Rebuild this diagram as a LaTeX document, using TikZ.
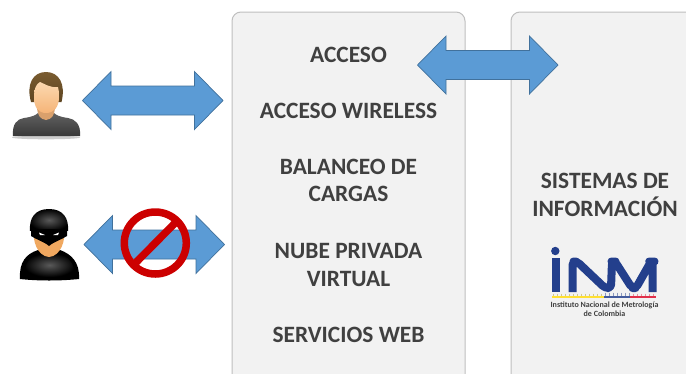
\documentclass[tikz,border=0pt]{standalone}
\usepackage{fontspec}
\setmainfont{Carlito}
\definecolor{boxfill}{HTML}{F2F2F2}
\definecolor{boxline}{HTML}{BFBFBF}
\definecolor{arrfill}{HTML}{5B9BD5}
\definecolor{arrline}{HTML}{41719C}
\definecolor{txt}{HTML}{404040}
\definecolor{inmblue}{HTML}{233F8C}
\definecolor{nored}{HTML}{CC0000}
\definecolor{hairtop}{HTML}{7A5C30}
\definecolor{hairbot}{HTML}{5E4522}
\definecolor{skintop}{HTML}{FCD9B0}
\definecolor{skinbot}{HTML}{F5B478}
\definecolor{neckc}{HTML}{D9A06C}
\definecolor{maskskin}{HTML}{F0A860}
\definecolor{ruley}{HTML}{FFE033}
\definecolor{ruler}{HTML}{E0304A}
\tikzset{
  panel/.style={draw=boxline,line width=1pt,fill=boxfill,rounded corners=9pt},
  lbl/.style={font=\fontsize{23.4}{27.5}\selectfont\bfseries,text=txt,align=center,inner sep=0pt},
  dbl/.style={draw=arrline,line width=.7pt,fill=arrfill,line join=miter},
  inm/.style={draw=inmblue,line width=8pt,line cap=butt},
  tick/.style={line width=.4pt,opacity=.5},
}
\newcommand{\dblarrow}[3]{% left tip x, right tip x, centre y
  \draw[dbl] (#1,#3) -- (#1+28.5,#3-29) -- (#1+28.5,#3-14.5) -- (#2-28.5,#3-14.5) -- (#2-28.5,#3-29)
   -- (#2,#3) -- (#2-28.5,#3+29) -- (#2-28.5,#3+14.5) -- (#1+28.5,#3+14.5) -- (#1+28.5,#3+29) -- cycle;}
\begin{document}
\begin{tikzpicture}[x=1pt,y=-1pt]
\useasboundingbox (0,0) rectangle (686,373);
\clip (0,0) rectangle (686,373);
\fill[white] (0,0) rectangle (686,373);
\draw[panel] (232,12) rectangle (465,390);
\draw[panel] (511,12) rectangle (710,390);
\node[lbl] (a) at (348.5,54.5) {ACCESO};
\node[lbl] (b) at (348.5,110.5) {ACCESO WIRELESS};
\node[lbl] (c) at (348.5,180.5) {BALANCEO DE\\CARGAS};
\node[lbl] (d) at (348.5,265) {NUBE PRIVADA\\VIRTUAL};
\node[lbl] (e) at (348.5,335) {SERVICIOS WEB};
\node[lbl] (f) at (605,195) {SISTEMAS DE\\INFORMACIÓN};
\dblarrow{82.5}{223}{100.5}
\dblarrow{84}{224.5}{244.5}
\dblarrow{417.5}{558}{65}
\draw[nored,line width=7.5pt] (155.3,243) circle (31);
\draw[nored,line width=7.5pt] (177,221) -- (133.5,265);
% user icon
\fill[black!20] (46,137.5) ellipse (34 and 1.8);
\shade[top color=black!62,bottom color=black!78] (13,136) .. controls (12,124) and (17,119) .. (24,118)
  .. controls (32,117) and (36,115) .. (38,113) -- (54,113) .. controls (56,115) and (60,117) .. (68,118)
  .. controls (75,119) and (81,124) .. (80,136) -- cycle;
\fill[neckc] (37,108) .. controls (38,116) and (40,119) .. (46,120) .. controls (52,119) and (54,116) .. (55,108) -- cycle;
\shade[top color=hairtop,bottom color=hairbot] (31,102) .. controls (26,84) and (33,72) .. (46,72)
  .. controls (59,72) and (66,84) .. (61.5,102) -- cycle;
\shade[top color=skintop,bottom color=skinbot] (46,113) .. controls (38,113) and (34,107) .. (34,97)
  .. controls (34,89) and (36,84) .. (40,82) .. controls (45,84) and (50,88) .. (58,87)
  .. controls (59,90) and (59,93) .. (59,97) .. controls (59,107) and (54,113) .. (46,113) -- cycle;
% intruder icon
\fill[black] (20,279) .. controls (19,262) and (26,254) .. (38,250) -- (60,250)
  .. controls (71,254) and (80,262) .. (79,279) .. controls (60,281) and (38,281) .. (20,279) -- cycle;
\shade[inner color=black!65,outer color=black] (24,277) .. controls (24,263) and (30,256) .. (40,253) -- (58,253)
  .. controls (68,256) and (75,263) .. (75,277) -- cycle;
\fill[maskskin] (34,228) .. controls (32,240) and (37,256) .. (49,257) .. controls (61,256) and (66,240) .. (64,228) -- cycle;
\fill[black] (31,229) -- (67,229) -- (67,236) .. controls (61,240) and (55,241) .. (49,246) .. controls (43,241) and (37,240) .. (31,236) -- cycle;
\fill[white] (39,232.5) -- (45,235) -- (40,235) -- cycle;
\fill[white] (59,232.5) -- (53,235) -- (58,235) -- cycle;
\shade[inner color=black!65,outer color=black] (30,231) .. controls (29,218) and (35,209) .. (49,209)
  .. controls (63,209) and (69,218) .. (68,231) .. controls (56,228) and (42,228) .. (30,231) -- cycle;
% INM logo
\fill[inmblue] (555.3,251) circle (4.2);
\draw[inm] (555.5,258) -- (555.5,292);
\draw[inm,rounded corners=3.5pt,line join=round] (572.5,292) -- (572.5,261.5) -- (577,261.5) -- (605,288) -- (611,288) -- (612,261.5) -- (615,261.5) -- (632,288) -- (636,288) -- (651,261.5) -- (652.7,261.5) -- (652.7,292);
\foreach \x in {553,557,...,601} \draw[tick,ruley!70!black] (\x,293.5) -- (\x,296);
\foreach \x in {605,609,...,629} \draw[tick,inmblue] (\x,292.5) -- (\x,296);
\foreach \x in {633,637,...,655} \draw[tick,ruler] (\x,293.5) -- (\x,296);
\fill[ruley] (551.5,296) rectangle (604,298);
\fill[inmblue!85] (604,296) rectangle (630,298);
\fill[ruler] (630,296) rectangle (656,298);
\node[font=\fontsize{8}{9}\selectfont\bfseries,text=black!75,align=center,inner sep=0pt] (logotext) at (604.5,309.5) {Instituto Nacional de Metrología\\de Colombia};
\end{tikzpicture}
\end{document}
